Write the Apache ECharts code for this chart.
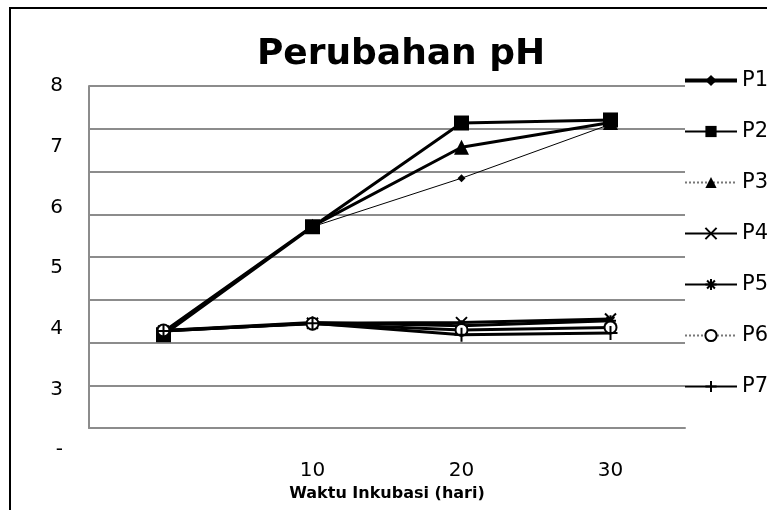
<!DOCTYPE html>
<html>
<head>
<meta charset="utf-8">
<script src="https://cdn.jsdelivr.net/npm/echarts@6/dist/echarts.min.js"></script>
<style>
  html, body { margin: 0; padding: 0; background: #fff; }
  #chart { width: 767px; height: 510px; }
</style>
</head>
<body>
<div id="chart"></div>
<script>
// waktu inkubasi (hari)
const xLabels = ['', '10', '20', '30']

// pH per perlakuan
const P1 = [3.95, 5.68, 6.48, 7.37]
const P2 = [3.90, 5.68, 7.39, 7.44]
const P3 = [3.95, 5.69, 6.99, 7.40]
const P4 = [3.96, 4.09, 4.10, 4.16]
const P5 = [3.97, 4.10, 4.05, 4.13]
const P6 = [3.97, 4.08, 3.98, 4.02]
const P7 = [3.96, 4.09, 3.90, 3.93]

const FONT = '"DejaVu Sans", sans-serif'
const CROSS = 'path://M0,0L10,10M10,0L0,10'
const STAR = 'path://M0,5L10,5M1.5,1.5L8.5,8.5M8.5,1.5L1.5,8.5M5,0L5,10'
const PLUS = 'path://M0,5L10,5M5,0L5,10'

let mkSeries = (name, data, symbol, size, width, strokeOnly) => {
  return {
    name: name,
    type: 'line',
    xAxisIndex: 0,
    yAxisIndex: 0,
    data: data,
    symbol: symbol,
    symbolSize: size,
    showAllSymbol: true,
    lineStyle: { color: '#000', width: width },
    itemStyle: strokeOnly
      ? { color: '#000', borderColor: '#000', borderWidth: 2 }
      : { color: '#000' },
    emphasis: { disabled: true }
  }
}

let chart = echarts.init(document.getElementById('chart'))

chart.setOption({
  animation: false,
  textStyle: { fontFamily: FONT },
  title: {
    text: 'Perubahan pH',
    left: 396,
    textAlign: 'center',
    top: 32,
    textStyle: { fontFamily: FONT, fontSize: 36, fontWeight: 'bold', color: '#000' }
  },
  graphic: [{
    type: 'rect',
    shape: { x: 10, y: 8, width: 800, height: 600 },
    style: { fill: 'none', stroke: '#000', lineWidth: 2 },
    z: -1
  }],
  legend: {
    orient: 'vertical',
    left: 683,
    top: 70,
    padding: 0,
    itemWidth: 52,
    itemHeight: 14,
    itemGap: 30,
    textStyle: { fontFamily: FONT, fontSize: 21, color: '#000', padding: [0, 0, 0, 0] },
    data: [
      { name: 'P1', lineStyle: { width: 4, color: '#000' } },
      { name: 'P2', lineStyle: { width: 2, color: '#000' } },
      { name: 'P3', lineStyle: { width: 2, color: '#777', type: 'dotted' } },
      { name: 'P4', lineStyle: { width: 2, color: '#000' } },
      { name: 'P5', lineStyle: { width: 2, color: '#000' } },
      { name: 'P6', lineStyle: { width: 2, color: '#777', type: 'dotted' } },
      { name: 'P7', lineStyle: { width: 2, color: '#000' } }
    ]
  },
  grid: [
    { left: 89, top: 86, width: 596, height: 364 },
    { left: 89, top: 86, width: 596, height: 342 }
  ],
  xAxis: [
    {
      type: 'category', gridIndex: 0, data: xLabels,
      axisLine: { show: false }, axisTick: { show: false }, axisLabel: { show: false }
    },
    {
      type: 'category', gridIndex: 1, data: xLabels,
      axisLine: { show: true, lineStyle: { color: '#8c8c8c', width: 2 } },
      axisTick: { show: false },
      axisLabel: { margin: 33, fontSize: 20, color: '#000', fontFamily: FONT },
      name: 'Waktu Inkubasi (hari)',
      nameLocation: 'middle',
      nameGap: 58,
      nameTextStyle: { fontSize: 16, fontWeight: 'bold', color: '#000', fontFamily: FONT }
    }
  ],
  yAxis: [
    {
      type: 'value', gridIndex: 0, min: 2, max: 8, interval: 1,
      axisLine: { show: false }, axisTick: { show: false }, splitLine: { show: false },
      axisLabel: {
        margin: 26, fontSize: 20, color: '#000', fontFamily: FONT,
        formatter: v => (v === 2 ? '-' : v)
      }
    },
    {
      type: 'value', gridIndex: 1, min: 0, max: 8, interval: 1,
      axisLine: { show: true, lineStyle: { color: '#8c8c8c', width: 2 } },
      axisTick: { show: false }, axisLabel: { show: false },
      splitLine: { show: true, lineStyle: { color: '#8c8c8c', width: 2 } }
    }
  ],
  series: [
    mkSeries('P1', P1, 'diamond', 8, 1, false),
    mkSeries('P2', P2, 'rect', 15, 3, false),
    mkSeries('P3', P3, 'triangle', 15, 3, false),
    mkSeries('P4', P4, CROSS, 11, 3, true),
    mkSeries('P5', P5, STAR, 11, 3, true),
    Object.assign(mkSeries('P6', P6, 'emptyCircle', 12, 3, false), {
      itemStyle: { color: '#000', borderWidth: 1.5 }
    }),
    mkSeries('P7', P7, PLUS, 14, 3, true)
  ]
})
</script>
</body>
</html>
